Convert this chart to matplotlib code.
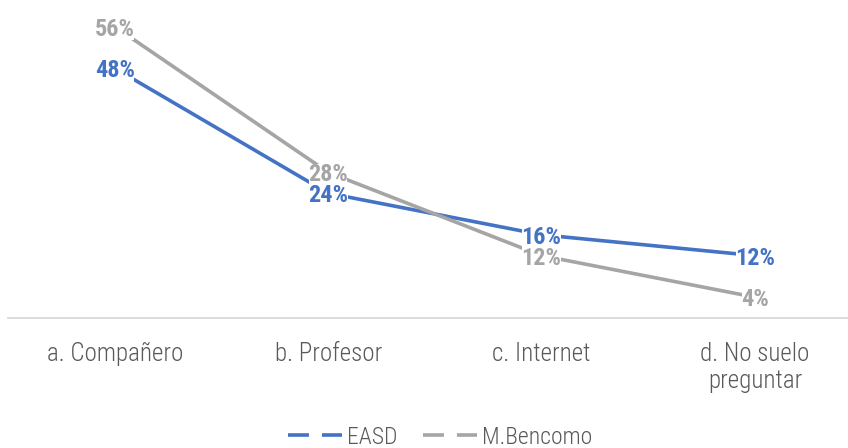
import matplotlib.pyplot as plt

plt.rcParams['font.family'] = ['Roboto Condensed', 'DejaVu Sans']

categories = ["a. Compañero", "b. Profesor", "c. Internet", "d. No suelo\npreguntar"]
easd = [48, 24, 16, 12]
bencomo = [56, 28, 12, 4]

blue = "#4472C4"
gray = "#A5A5A5"

fig = plt.figure(figsize=(8.48, 4.48), dpi=100)
# categories centred at x=115..755 px, zero line at y=318 px
ax = fig.add_axes([8.3 / 848, 130 / 448, 853.3 / 848, 312 / 448])
x = range(len(categories))

ax.plot(x, easd, color=blue, lw=2.6, label="EASD", solid_capstyle="butt")
ax.plot(x, bencomo, color=gray, lw=2.6, label="M.Bencomo", solid_capstyle="butt")

# gray labels first so the blue ones sit on top
for vals, col, z in [(bencomo, gray, 5), (easd, blue, 6)]:
    for xi, v in zip(x, vals):
        ax.text(xi, v, f"{v}%", color=col, fontsize=17.5, fontweight="bold",
                ha="center", va="center_baseline", zorder=z,
                bbox=dict(facecolor="white", edgecolor="none", pad=-0.5))

ax.set_xlim(-0.5, 3.5)
ax.set_ylim(0, 60)
ax.set_xticks(list(x))
ax.set_xticklabels(categories, fontsize=18, color="#595959", fontweight=300, linespacing=1.2)
ax.tick_params(axis="x", length=0, pad=17)
ax.set_yticks([])
for s in ["top", "right", "left"]:
    ax.spines[s].set_visible(False)
ax.spines["bottom"].set_color("#D9D9D9")
ax.spines["bottom"].set_linewidth(1.3)

h1, = ax.plot([], [], color=blue, lw=2.6, ls=(0, (5.8, 3.6)))
h2, = ax.plot([], [], color=gray, lw=2.6, ls=(0, (5.8, 3.6)))
fig.legend([h1, h2], ["EASD", "M.Bencomo"], loc="center", bbox_to_anchor=(440 / 848, 1 - 437 / 448),
           ncol=2, frameon=False, prop=dict(size=17, weight=300), labelcolor="#595959",
           handlelength=2.3, handletextpad=0.2, columnspacing=1.1)

fig.savefig("out.png", dpi=100)
